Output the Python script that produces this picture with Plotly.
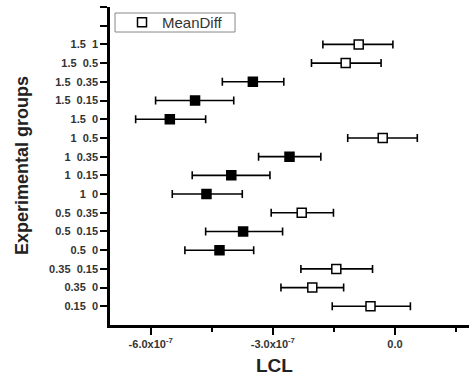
import plotly.graph_objects as go

groups = ["0.15 0", "0.35 0", "0.35 0.15", "0.5 0", "0.5 0.15", "0.5 0.35",
          "1 0", "1 0.15", "1 0.35", "1 0.5",
          "1.5 0", "1.5 0.15", "1.5 0.35", "1.5 0.5", "1.5 1"]
mean_diff = [-0.60e-7, -2.03e-7, -1.44e-7, -4.31e-7, -3.73e-7, -2.29e-7,
             -4.63e-7, -4.02e-7, -2.59e-7, -0.30e-7,
             -5.53e-7, -4.91e-7, -3.49e-7, -1.21e-7, -0.89e-7]
lower = [-1.54e-7, -2.80e-7, -2.31e-7, -5.16e-7, -4.65e-7, -3.04e-7,
         -5.47e-7, -4.98e-7, -3.35e-7, -1.16e-7,
         -6.37e-7, -5.88e-7, -4.24e-7, -2.05e-7, -1.77e-7]
upper = [0.38e-7, -1.26e-7, -0.55e-7, -3.47e-7, -2.76e-7, -1.51e-7,
         -3.75e-7, -3.07e-7, -1.82e-7, 0.55e-7,
         -4.65e-7, -3.96e-7, -2.73e-7, -0.34e-7, -0.05e-7]
significant = [False, False, False, True, True, False,
               True, True, True, False,
               True, True, True, False, False]
x_tickvals = [-6.0e-7, -3.0e-7, 0.0]
x_ticktext = ["-6.0x10<sup>-7</sup>", "-3.0x10<sup>-7</sup>", "0.0"]

FONT = "Liberation Sans, Arial, sans-serif"

fig = go.Figure()

def add_trace(sel, filled, show):
    idx = [i for i in range(len(groups)) if significant[i] == sel]
    fig.add_trace(go.Scatter(
        x=[mean_diff[i] for i in idx],
        y=idx,
        mode="markers",
        name="MeanDiff",
        showlegend=show,
        marker=dict(symbol="square", size=9,
                    color="black" if filled else "white",
                    line=dict(color="black", width=1.5)),
        error_x=dict(type="data", symmetric=False,
                     array=[upper[i] - mean_diff[i] for i in idx],
                     arrayminus=[mean_diff[i] - lower[i] for i in idx],
                     color="black", thickness=1.6, width=4),
    ))

add_trace(False, False, True)
add_trace(True, True, False)

PW, PH = 359, 318  # plot area size in px (for paper placement of legend box/titles)

fig.update_layout(
    width=469, height=376,
    margin=dict(l=110, r=0, t=7, b=51),
    paper_bgcolor="white", plot_bgcolor="white",
    font=dict(family=FONT, color="#333"),
    showlegend=True,
    legend=dict(x=(122 - 110) / PW, y=(325 - 22.5) / PH, xanchor="left", yanchor="middle",
                borderwidth=0, bgcolor="rgba(0,0,0,0)",
                font=dict(size=15, color="#333", family=FONT),
                itemwidth=30, tracegroupgap=0),
    shapes=[dict(type="rect", xref="paper", yref="paper",
                 x0=(115 - 110) / PW, x1=(235 - 110) / PW,
                 y0=(325 - 13) / PH, y1=(325 - 32) / PH,
                 line=dict(color="#888", width=1), fillcolor="rgba(0,0,0,0)", layer="below")],
    xaxis=dict(
        range=[-7.0e-7, 1.82e-7],
        tickvals=x_tickvals, ticktext=["<b>" + t + "</b>" for t in x_ticktext],
        tickfont=dict(size=11, color="#333", family=FONT),
        ticks="outside", ticklen=7, tickwidth=2, tickcolor="black",
        minor=dict(tickvals=[-4.5e-7, -1.5e-7, 1.5e-7], ticks="outside",
                   ticklen=4, tickwidth=2, tickcolor="black"),
        showline=True, linecolor="black", linewidth=2.5,
        showgrid=False, zeroline=False,
    ),
    yaxis=dict(
        range=[-1, 16],
        tickvals=list(range(17)),
        ticktext=["<b>" + g.replace(" ", "&nbsp;&nbsp;") + "</b>" for g in groups] + ["", ""],
        tickfont=dict(size=11, color="#333", family=FONT),
        ticks="outside", ticklen=7, tickwidth=2, tickcolor="black",
        showline=True, linecolor="black", linewidth=2.5,
        showgrid=False, zeroline=False,
    ),
    annotations=[
        dict(text="<b>Experimental groups</b>", textangle=-90,
             xref="paper", yref="paper", x=(22 - 110) / PW, y=0.50,
             xanchor="center", yanchor="middle", showarrow=False,
             font=dict(size=18, color="#222", family=FONT)),
        dict(text="<b>LCL</b>",
             xref="paper", yref="paper", x=(274 - 110) / PW, y=-(365 - 325) / PH,
             xanchor="center", yanchor="middle", showarrow=False,
             font=dict(size=19, color="#222", family=FONT)),
    ],
)

fig.write_html("out.html")
